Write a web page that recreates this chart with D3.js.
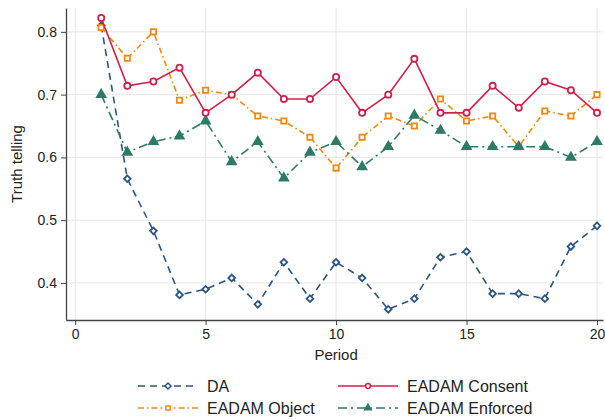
<!DOCTYPE html>
<html lang="en">
<head>
  <meta charset="UTF-8" />
  <title>Truth telling by period</title>
  <style>
    body { margin: 0; background: #fff; font-family: Arial, "Liberation Sans", sans-serif; }
    svg { display: block; }
    .tick text { fill: #222; font-size: 14px; }
  </style>
  <script src="https://cdn.jsdelivr.net/npm/d3@7"></script>
</head>
<body>
  <div id="chart"></div>
  <script>
    const periods = d3.range(1, 21);
    const daValues = [0.810, 0.566, 0.483, 0.381, 0.390, 0.408, 0.366, 0.433, 0.375, 0.433,
                      0.408, 0.358, 0.375, 0.441, 0.450, 0.383, 0.383, 0.375, 0.458, 0.491];
    const consentValues = [0.822, 0.714, 0.721, 0.743, 0.671, 0.700, 0.735, 0.693, 0.693, 0.728,
                           0.671, 0.700, 0.757, 0.671, 0.671, 0.714, 0.679, 0.721, 0.707, 0.671];
    const objectValues = [0.807, 0.758, 0.800, 0.691, 0.707, 0.700, 0.666, 0.658, 0.632, 0.583,
                          0.632, 0.666, 0.650, 0.693, 0.658, 0.666, 0.617, 0.674, 0.666, 0.700];
    const enforcedValues = [0.700, 0.608, 0.625, 0.634, 0.658, 0.593, 0.625, 0.567, 0.608, 0.625,
                            0.585, 0.617, 0.667, 0.643, 0.617, 0.617, 0.617, 0.617, 0.600, 0.625];
    const xTicks = [0, 5, 10, 15, 20];
    const yTicks = [0.4, 0.5, 0.6, 0.7, 0.8];

    // draw order: DA, Object, Enforced, Consent (consent on top)
    const series = [
      { name: 'DA', values: daValues, color: '#2b5583', dash: '7,5', marker: 'diamond', fill: false },
      { name: 'EADAM Object', values: objectValues, color: '#ee8a12', dash: '6,3,1.5,3', marker: 'square', fill: false },
      { name: 'EADAM Enforced', values: enforcedValues, color: '#2e7a68', dash: '9,4,2,4', marker: 'triangle', fill: true },
      { name: 'EADAM Consent', values: consentValues, color: '#d0204a', dash: null, marker: 'circle', fill: false }
    ];

    const width = 605, height = 420;
    const margin = { left: 66, right: 2, top: 8, bottom: 100 };

    const svg = d3.select('#chart').append('svg')
      .attr('width', width).attr('height', height);

    const x = d3.scaleLinear().domain([-0.35, 20.23]).range([margin.left, width - margin.right]);
    const y = d3.scaleLinear().domain([0.341, 0.838]).range([height - margin.bottom, margin.top]);

    // grid
    svg.append('g').selectAll('line').data(xTicks).join('line')
      .attr('x1', d => x(d)).attr('x2', d => x(d))
      .attr('y1', y.range()[1]).attr('y2', y.range()[0])
      .attr('stroke', '#e6e6e6').attr('stroke-width', 1);
    svg.append('g').selectAll('line').data(yTicks).join('line')
      .attr('x1', x.range()[0]).attr('x2', x.range()[1])
      .attr('y1', d => y(d)).attr('y2', d => y(d))
      .attr('stroke', '#e6e6e6').attr('stroke-width', 1);

    // axes
    const xAxis = svg.append('g')
      .attr('transform', `translate(0,${y.range()[0]})`)
      .call(d3.axisBottom(x).tickValues(xTicks).tickSize(5).tickPadding(4).tickSizeOuter(0));
    const yAxis = svg.append('g')
      .attr('transform', `translate(${margin.left},0)`)
      .call(d3.axisLeft(y).tickValues(yTicks).tickFormat(d3.format('.1f')).tickSize(5).tickPadding(4).tickSizeOuter(0));
    [xAxis, yAxis].forEach(a => {
      a.select('.domain').attr('stroke', '#444').attr('stroke-width', 1.3);
      a.selectAll('.tick line').attr('stroke', '#444');
      a.selectAll('.tick text').style('font-family', 'Arial, "Liberation Sans", sans-serif');
    });

    svg.append('text')
      .attr('x', x(10)).attr('y', 360)
      .attr('text-anchor', 'middle')
      .attr('font-size', 15).attr('fill', '#222')
      .text('Period');
    svg.append('text')
      .attr('transform', `translate(22,${(y.range()[0] + y.range()[1]) / 2}) rotate(-90)`)
      .attr('text-anchor', 'middle')
      .attr('font-size', 15).attr('fill', '#222')
      .text('Truth telling');

    // diamond drawn as a square turned 45 degrees, like the reference
    const symbolFor = m => ({
      diamond: d3.symbol(d3.symbolSquare, 22),
      square: d3.symbol(d3.symbolSquare, 28),
      triangle: d3.symbol(d3.symbolTriangle, 32),
      circle: d3.symbol(d3.symbolCircle, 30)
    })[m];
    const turn = m => m === 'diamond' ? ' rotate(45)' : '';

    const line = d3.line().x((d, i) => x(periods[i])).y(d => y(d));

    series.forEach(s => {
      const g = svg.append('g');
      g.append('path')
        .attr('d', line(s.values))
        .attr('fill', 'none')
        .attr('stroke', s.color)
        .attr('stroke-width', 1.6)
        .attr('stroke-dasharray', s.dash);
      g.selectAll('path.pt').data(s.values).join('path')
        .attr('class', 'pt')
        .attr('transform', (d, i) => `translate(${x(periods[i])},${y(d)})` + turn(s.marker))
        .attr('d', symbolFor(s.marker)())
        .attr('fill', s.fill ? s.color : '#fff')
        .attr('stroke', s.color)
        .attr('stroke-width', 1.8);
    });

    // legend
    const legendItems = [
      { s: series[0], lx: 138, ly: 386 },
      { s: series[3], lx: 338, ly: 386 },
      { s: series[1], lx: 138, ly: 408 },
      { s: series[2], lx: 338, ly: 408 }
    ];
    legendItems.forEach(({ s, lx, ly }) => {
      const g = svg.append('g');
      g.append('line')
        .attr('x1', lx).attr('x2', lx + 60).attr('y1', ly).attr('y2', ly)
        .attr('stroke', s.color).attr('stroke-width', 1.6)
        .attr('stroke-dasharray', s.dash);
      g.append('path')
        .attr('transform', `translate(${lx + 30},${ly})` + turn(s.marker))
        .attr('d', symbolFor(s.marker).size(18)())
        .attr('fill', s.fill ? s.color : '#fff')
        .attr('stroke', s.color).attr('stroke-width', 1.5);
      g.append('text')
        .attr('x', lx + 69).attr('y', ly + 5.5)
        .attr('font-size', 16).attr('fill', '#222')
        .text(s.name);
    });
  </script>
</body>
</html>
